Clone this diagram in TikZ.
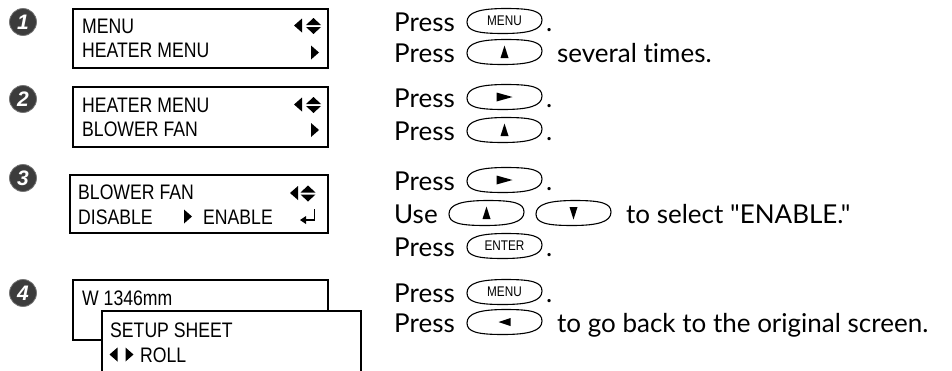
\documentclass[tikz,border=0pt]{standalone}
\usepackage{fontspec}
\newfontfamily\bodyfont{Lato}[Ligatures={TeXOff,NoCommon}]
\newfontfamily\lcdfont[FakeStretch=0.84]{Liberation Sans}
\newfontfamily\numfont{Liberation Sans}
\definecolor{numgray}{HTML}{3C3C3C}
\tikzset{
  lcdbox/.style={draw=black, line width=2pt, fill=white},
  lcdtext/.style={anchor=base west, inner sep=0pt, font=\lcdfont\fontsize{21}{21}\selectfont},
  numcirc/.style={circle, fill=numgray, draw=numgray!70!white, line width=0.8pt, minimum size=27pt, inner sep=0pt, text=white, font=\numfont\bfseries\itshape\fontsize{21}{21}\selectfont},
  bodytext/.style={anchor=base west, inner sep=0pt, font=\bodyfont\fontsize{26}{26}\selectfont},
  btnline/.style={draw=black, line width=1.1pt},
  btnlabel/.style={inner sep=0pt, minimum width=75pt, minimum height=25pt, font=\lcdfont\fontsize{14}{14}\selectfont},
}
% button: name, cx, cy, label
\newcommand\mybtn[4]{%
  \node[btnlabel] (#1) at (#2,#3) {#4};
  \draw[btnline, shift={(#1.center)}] (-37.5,1) .. controls (-37.5,-9) and (-24,-12.5) .. (1.5,-12.5)
     .. controls (27,-12.5) and (37.5,-10) .. (37.5,-1)
     .. controls (37.5,9) and (24,12.5) .. (-1.5,12.5)
     .. controls (-27,12.5) and (-37.5,10) .. cycle;
}
\newcommand\upT[2]{\fill (#1-4,#2+6) -- (#1+4,#2+6) -- (#1,#2-6.5) -- cycle;}
\newcommand\dnT[2]{\fill (#1-4,#2-6) -- (#1+4,#2-6) -- (#1,#2+6.5) -- cycle;}
\newcommand\rtT[2]{\fill (#1-8,#2-4.5) -- (#1-8,#2+4.5) -- (#1+8,#2) -- cycle;}
\newcommand\ltT[2]{\fill (#1+6,#2-4) -- (#1+6,#2+4) -- (#1-6,#2) -- cycle;}
% lcd icons
\newcommand\lcdL[2]{\fill (#1+4,#2-7) -- (#1+4,#2+7) -- (#1-4,#2) -- cycle;}
\newcommand\lcdR[2]{\fill (#1-4,#2-7) -- (#1-4,#2+7) -- (#1+4,#2) -- cycle;}
\newcommand\lcdUD[2]{\fill (#1-7.5,#2-1) -- (#1+7.5,#2-1) -- (#1,#2-8) -- cycle;
  \fill (#1-7.5,#2+1) -- (#1+7.5,#2+1) -- (#1,#2+8) -- cycle;}
\begin{document}
\begin{tikzpicture}[x=1pt,y=-1pt]
\useasboundingbox (0,0) rectangle (952,370);
\clip (0,0) rectangle (952,370);

% number circles
\node[numcirc] (n1) at (23,22) {1};
\node[numcirc] (n2) at (23,99) {2};
\node[numcirc] (n3) at (23,178) {3};
\node[numcirc] (n4) at (23,293) {4};

% LCD 1
\draw[lcdbox] (73,9) rectangle (328,68);
\node[lcdtext] (l1a) at (82,33.5) {MENU};
\node[lcdtext] (l1b) at (82,57) {HEATER MENU};
\lcdL{298}{25.5}
\lcdUD{313.5}{26}
\lcdR{315}{52.5}

% LCD 2
\draw[lcdbox] (73,87) rectangle (328,147);
\node[lcdtext] (l2a) at (82,112) {HEATER MENU};
\node[lcdtext] (l2b) at (82,136.5) {BLOWER FAN};
\lcdL{298}{104.5}
\lcdUD{313.5}{105}
\lcdR{315}{130}

% LCD 3
\draw[lcdbox] (70,175) rectangle (328,233);
\node[lcdtext] (l3a) at (78,199) {BLOWER FAN};
\node[lcdtext] (l3b) at (78,224) {DISABLE};
\node[lcdtext] (l3c) at (203,224) {ENABLE};
\lcdR{188}{216.5}
\lcdL{294}{193}
\lcdUD{308}{193.5}
\draw[line width=1.6pt] (314.5,209) -- (314.5,220) -- (305,220);
\fill (300,220) -- (306,216) -- (306,224) -- cycle;

% LCD 4
\draw[lcdbox] (73,280) rectangle (328,340);
\node[lcdtext] (l4a) at (82,305.5) {W 1346mm};
\draw[lcdbox] (102,311) rectangle (361,380);
\node[lcdtext] (l4b) at (110,337) {SETUP SHEET};
\node[lcdtext] (l4c) at (140,362) {ROLL};
\lcdL{113.5}{354.5}
\lcdR{129.5}{354.5}

% right column
\node[bodytext] (t1) at (394,31) {Press};
\mybtn{b1}{504.5}{21}{MENU}
\node[bodytext] (d1) at (546,31) {.};

\node[bodytext] (t2) at (394,62) {Press};
\mybtn{b2}{504.5}{52}{}
\upT{504.5}{52}
\node[bodytext] (s2) at (557,62) {several times.};

\node[bodytext] (t3) at (394,107) {Press};
\mybtn{b3}{504.5}{97}{}
\rtT{504.5}{97}
\node[bodytext] (d3) at (546,107) {.};

\node[bodytext] (t4) at (394,140) {Press};
\mybtn{b4}{504.5}{130}{}
\upT{504.5}{130}
\node[bodytext] (d4) at (546,140) {.};

\node[bodytext] (t5) at (394,190) {Press};
\mybtn{b5}{504.5}{180}{}
\rtT{504.5}{180}
\node[bodytext] (d5) at (546,190) {.};

\node[bodytext] (t6) at (394,223) {Use};
\mybtn{b6a}{486.5}{213}{}
\upT{486.5}{213}
\mybtn{b6b}{573.5}{213}{}
\dnT{573.5}{213}
\node[bodytext] (s6) at (626,223) {to select "ENABLE."};

\node[bodytext] (t7) at (394,256) {Press};
\mybtn{b7}{504.5}{246}{ENTER}
\node[bodytext] (d7) at (546,256) {.};

\node[bodytext] (t8) at (394,302) {Press};
\mybtn{b8}{504.5}{292}{MENU}
\node[bodytext] (d8) at (546,302) {.};

\node[bodytext] (t9) at (394,332) {Press};
\mybtn{b9}{504.5}{322}{}
\ltT{504.5}{322}
\node[bodytext] (s9) at (557,332) {to go back to the original screen.};
\end{tikzpicture}
\end{document}
